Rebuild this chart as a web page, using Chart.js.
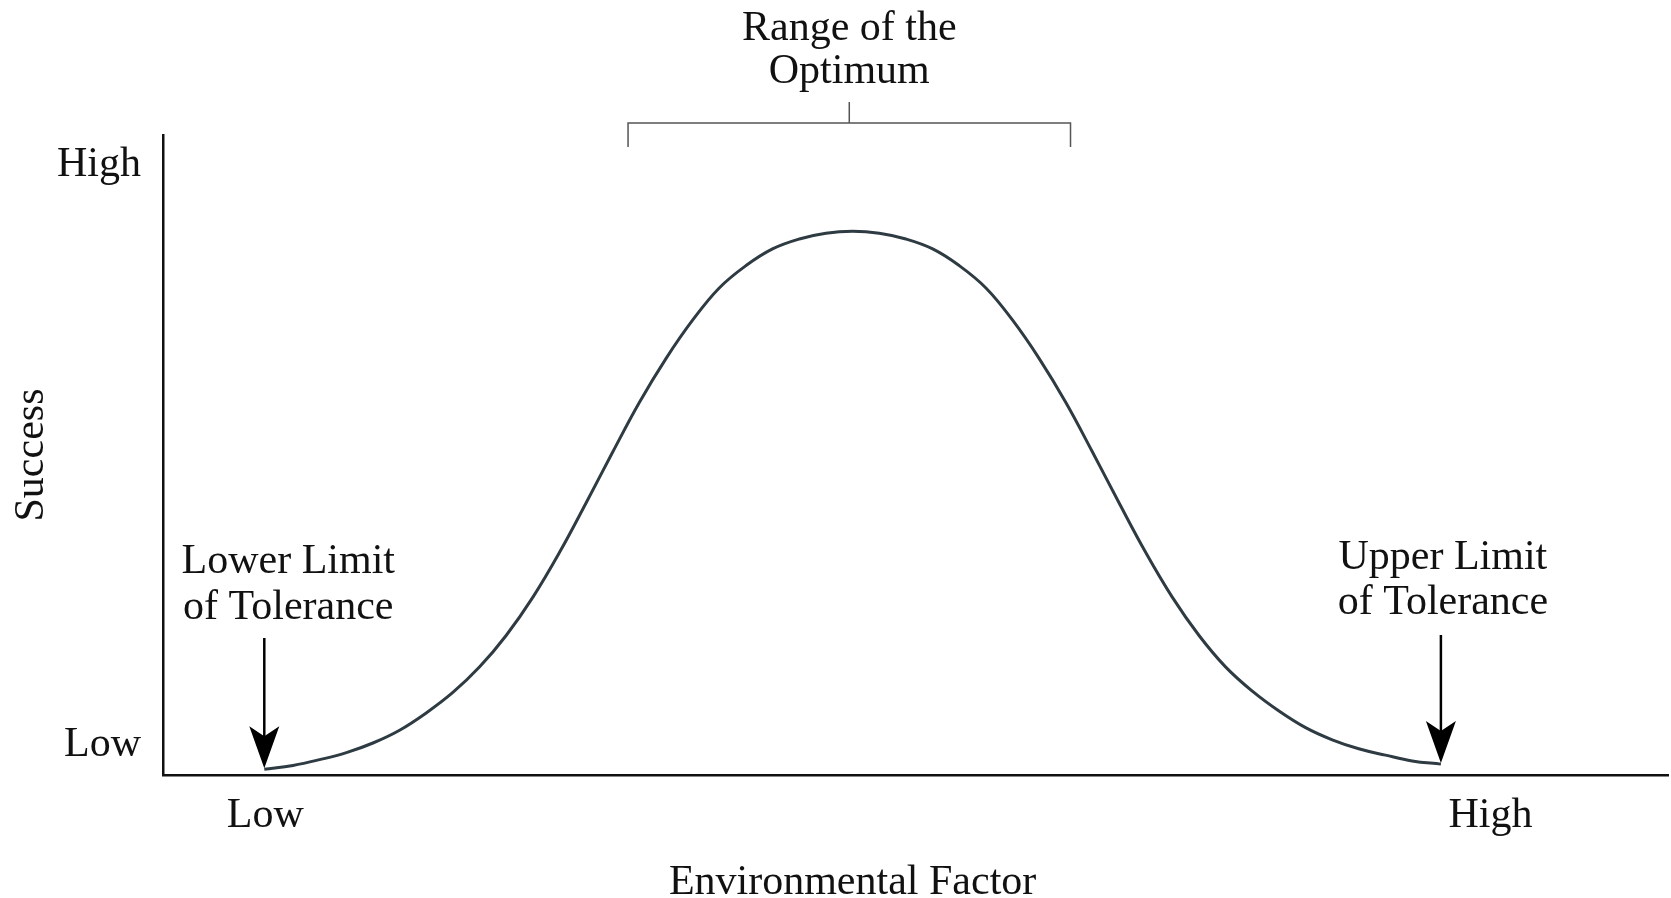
<!DOCTYPE html>
<html>
<head>
<meta charset="utf-8">
<title>Range of Tolerance</title>
<script src="https://cdn.jsdelivr.net/npm/chart.js@4.4.0/dist/chart.umd.min.js"></script>
<style>
  html, body { margin: 0; padding: 0; background: #fff; }
</style>
</head>
<body>
<canvas id="chart" width="1671" height="898"></canvas>
<script>
// Tolerance curve: environmental factor (x) against success (y)
const factorValues = [6.73, 8.64, 10.41, 12.19, 13.95, 15.72, 17.49, 19.26, 21.04, 22.80, 24.58, 26.35, 28.11,
  29.89, 31.65, 33.43, 35.20, 36.96, 38.74, 40.50, 42.28, 44.05, 45.82,
  47.59, 49.36, 51.14, 52.90, 54.68, 56.44, 58.21, 59.99, 61.75, 63.53, 65.29, 67.06, 68.84, 70.60,
  72.38, 74.15, 75.92, 77.69, 79.45, 81.23, 83.00, 84.91];
const successValues = [0.9, 1.5, 2.4, 3.5, 5.0, 7.0, 9.7, 12.9, 16.9, 21.8, 27.8, 34.8, 42.5,
  50.5, 58.2, 65.1, 71.1, 76.1, 79.6, 82.2, 83.75, 84.65, 84.95,
  84.65, 83.75, 82.2, 79.6, 76.1, 71.1, 65.1, 58.2, 50.5, 42.5, 34.8, 27.8, 21.8, 16.9,
  13.1, 10.0, 7.4, 5.5, 4.1, 3.1, 2.2, 1.7];

// Axis ticks
const xTickValues = [6.8, 88.2];
const xTickLabels = ['Low', 'High'];
const yTickValues = [4.7, 95.3];
const yTickLabels = ['Low', 'High'];

// Texts and the optimum bracket
const xTitle = 'Environmental Factor';
const yTitle = 'Success';
const optimumRange = [30.9, 60.3];
const optimumLabel = ['Range of the', 'Optimum'];
const lowerLabel = ['Lower Limit', 'of Tolerance'];
const upperLabel = ['Upper Limit', 'of Tolerance'];

const FONT_FAMILY = '"Liberation Serif", "DejaVu Serif", serif';
const FONT_SIZE = 42;
const TEXT_COLOR = '#111';

function drawArrow(ctx, x, y0, y1) {
    ctx.beginPath();
    ctx.moveTo(x, y0);
    ctx.lineTo(x, y1 - 30);
    ctx.stroke();
    ctx.beginPath();
    ctx.moveTo(x - 15, y1 - 42);
    ctx.lineTo(x, y1 - 32);
    ctx.lineTo(x + 15, y1 - 42);
    ctx.lineTo(x, y1);
    ctx.closePath();
    ctx.fill();
}

// Draws the bracket, arrows and free text labels
const annotations = {
    id: 'annotations',
    afterDraw(chart) {
        const ctx = chart.ctx;
        const xs = chart.scales.x;
        const ys = chart.scales.y;
        const area = chart.chartArea;
        const peakIndex = successValues.indexOf(Math.max(...successValues));
        const peakX = xs.getPixelForValue(factorValues[peakIndex]);

        ctx.save();
        ctx.font = FONT_SIZE + 'px ' + FONT_FAMILY;
        ctx.fillStyle = TEXT_COLOR;
        ctx.textAlign = 'center';
        ctx.textBaseline = 'alphabetic';

        // Range of the optimum bracket
        const bx1 = xs.getPixelForValue(optimumRange[0]);
        const bx2 = xs.getPixelForValue(optimumRange[1]);
        const bMid = (bx1 + bx2) / 2;
        ctx.strokeStyle = '#555';
        ctx.lineWidth = 1.5;
        ctx.beginPath();
        ctx.moveTo(bx1, area.top + 12);
        ctx.lineTo(bx1, area.top - 12);
        ctx.lineTo(bx2, area.top - 12);
        ctx.lineTo(bx2, area.top + 12);
        ctx.moveTo(bMid, area.top - 12);
        ctx.lineTo(bMid, area.top - 33);
        ctx.stroke();
        ctx.fillText(optimumLabel[0], bMid, area.top - 95);
        ctx.fillText(optimumLabel[1], bMid, area.top - 52);

        // Limits of tolerance
        const lx = xs.getPixelForValue(factorValues[0]);
        const ly = ys.getPixelForValue(successValues[0]);
        const ux = xs.getPixelForValue(factorValues[factorValues.length - 1]);
        const uy = ys.getPixelForValue(successValues[successValues.length - 1]);
        ctx.strokeStyle = '#000';
        ctx.fillStyle = '#000';
        ctx.lineWidth = 2.5;
        drawArrow(ctx, lx, area.bottom - 137, ly - 1);
        drawArrow(ctx, ux, area.bottom - 140, uy - 1);

        ctx.fillStyle = TEXT_COLOR;
        ctx.fillText(lowerLabel[0], lx + 24, area.bottom - 202);
        ctx.fillText(lowerLabel[1], lx + 24, area.bottom - 156);
        ctx.fillText(upperLabel[0], ux + 2, area.bottom - 206);
        ctx.fillText(upperLabel[1], ux + 2, area.bottom - 161);

        // x axis title, centred under the peak
        ctx.fillText(xTitle, peakX, area.bottom + 119);
        ctx.restore();
    }
};

const font = { family: FONT_FAMILY, size: FONT_SIZE };

new Chart(document.getElementById('chart'), {
    type: 'line',
    data: {
        datasets: [{
            data: factorValues.map((x, i) => ({ x: x, y: successValues[i] })),
            borderColor: '#2e3b42',
            borderWidth: 3,
            pointRadius: 0,
            fill: false,
            tension: 0.4
        }]
    },
    options: {
        responsive: false,
        animation: false,
        devicePixelRatio: 1,
        layout: { padding: { top: 135, right: 3, left: 0, bottom: 0 } },
        plugins: {
            legend: { display: false },
            tooltip: { enabled: false }
        },
        scales: {
            x: {
                type: 'linear',
                min: 0,
                max: 100,
                afterFit(scale) { scale.height = 123; },
                afterBuildTicks(scale) { scale.ticks = xTickValues.map(v => ({ value: v })); },
                grid: { display: false, drawTicks: false },
                border: { display: true, color: '#111', width: 2.5 },
                ticks: {
                    padding: 16,
                    autoSkip: false,
                    maxRotation: 0,
                    font: font,
                    color: TEXT_COLOR,
                    callback: (v, i) => xTickLabels[i]
                }
            },
            y: {
                type: 'linear',
                min: 0,
                max: 100,
                afterFit(scale) { scale.width = 163; },
                afterBuildTicks(scale) { scale.ticks = yTickValues.map(v => ({ value: v })); },
                grid: { display: false, drawTicks: false },
                border: { display: true, color: '#111', width: 2.5 },
                ticks: {
                    padding: 22,
                    autoSkip: false,
                    font: font,
                    color: TEXT_COLOR,
                    callback: (v, i) => yTickLabels[i]
                },
                title: {
                    display: true,
                    text: yTitle,
                    font: font,
                    color: TEXT_COLOR,
                    padding: { top: 7, bottom: 0 }
                }
            }
        }
    },
    plugins: [annotations]
});
</script>
</body>
</html>
